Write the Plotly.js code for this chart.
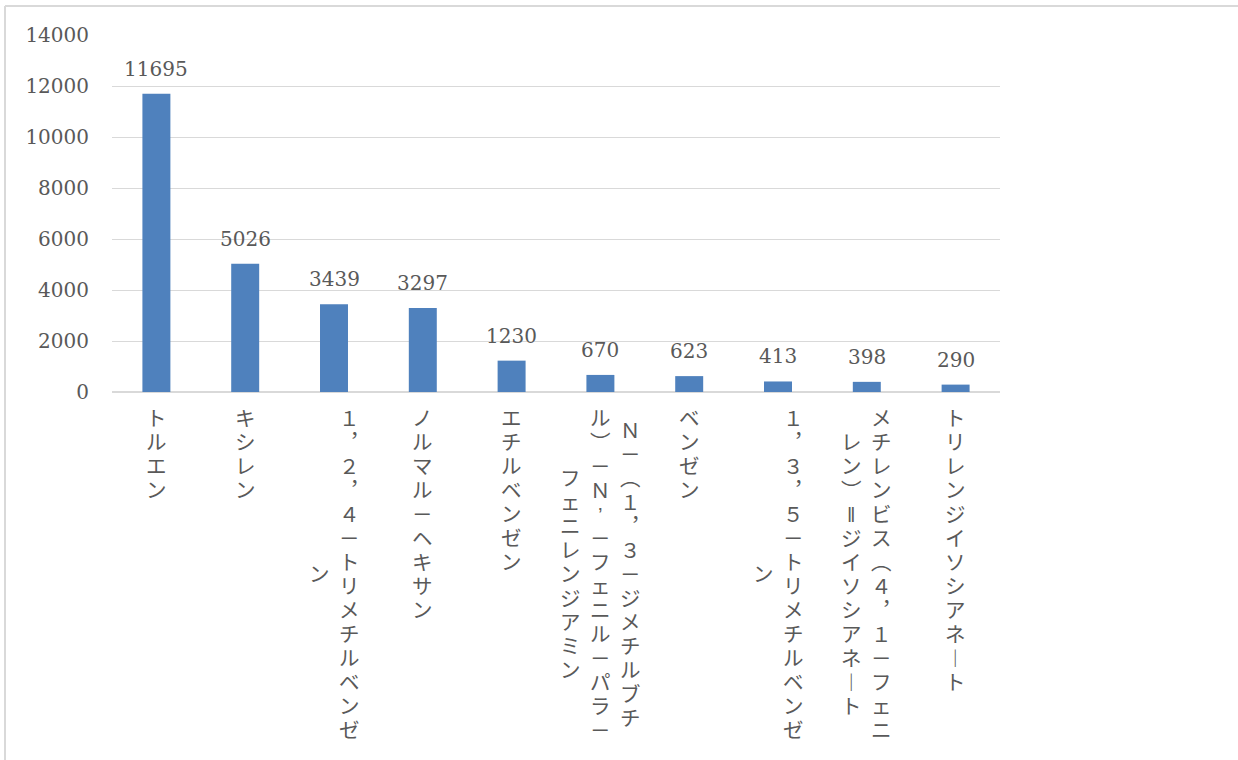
<!DOCTYPE html>
<html>
<head>
<meta charset="utf-8">
<script src="https://cdn.plot.ly/plotly-3.0.1.min.js"></script>
<style>
  html, body { margin: 0; padding: 0; background: #ffffff; }
  #chart { width: 1238px; height: 760px; }
</style>
</head>
<body>
<div id="chart"></div>
<script>
// ---- data ----
const categories = [
  "トルエン",
  "キシレン",
  "１，２，４－トリメチルベンゼン",
  "ノルマル－ヘキサン",
  "エチルベンゼン",
  "Ｎ－（１，３－ジメチルブチル）－Ｎ’－フェニル－パラ－フェニレンジアミン",
  "ベンゼン",
  "１，３，５－トリメチルベンゼン",
  "メチレンビス（４，１－フェニレン）＝ジイソシアネート",
  "トリレンジイソシアネート"
];
const values = [11695, 5026, 3439, 3297, 1230, 670, 623, 413, 398, 290];
// category labels as wrapped in the chart (vertical columns, right to left)
const labelColumns = [
  ["トルエン"],
  ["キシレン"],
  ["１，２，４－トリメチルベンゼ", "ン"],
  ["ノルマル－ヘキサン"],
  ["エチルベンゼン"],
  ["Ｎ－（１，３－ジメチルブチ", "ル）－Ｎ’－フェニル－パラ－", "フェニレンジアミン"],
  ["ベンゼン"],
  ["１，３，５－トリメチルベンゼ", "ン"],
  ["メチレンビス（４，１－フェニ", "レン）＝ジイソシアネート"],
  ["トリレンジイソシアネート"]
];
const yTickVals = [0, 2000, 4000, 6000, 8000, 10000, 12000, 14000];

// ---- styling ----
const TEXT_COLOR = "#595959";
const GRID_COLOR = "#D9D9D9";
const BAR_COLOR = "#4F81BD";
const NUM_FONT = "DejaVu Serif";
const JP_FONT = "Liberation Sans, Noto Sans CJK JP";
const BASE = 18.46;        // line pitch = 1.3 * BASE
const GLYPH = 20.5;        // glyph size
const PITCH = BASE * 1.3;
const COL_GAP = 30;
const TOP_OFF = 13;

const verticalForms = { "（": "︵", "）": "︶", "ー": "︱", "＝": "‖", "，": "︐" };

function stackColumn(str) {
  return Array.from(str)
    .map(c => '<span style="font-size:' + GLYPH + 'px">' + (verticalForms[c] || c) + '</span>')
    .join("<br>");
}

const annotations = [];
// value labels
values.forEach((v, i) => {
  annotations.push({
    x: categories[i], y: v, xref: "x", yref: "y",
    text: String(v), showarrow: false,
    xanchor: "center", yanchor: "bottom", yshift: 11,
    font: { family: NUM_FONT, size: 20, color: TEXT_COLOR }
  });
});
// category labels
labelColumns.forEach((cols, i) => {
  const n = cols.length;
  const maxLen = Math.max(...cols.map(c => Array.from(c).length));
  cols.forEach((col, j) => {
    const len = Array.from(col).length;
    annotations.push({
      x: categories[i], y: 0, xref: "x", yref: "y",
      text: stackColumn(col), showarrow: false, align: "center",
      xanchor: "center", yanchor: "top",
      xshift: ((n - 1) / 2 - j) * COL_GAP,
      yshift: -(TOP_OFF + (maxLen - len) / 2 * PITCH),
      font: { family: JP_FONT, size: BASE, color: TEXT_COLOR }
    });
  });
});

const trace = {
  type: "bar",
  x: categories,
  y: values,
  marker: { color: BAR_COLOR },
  hoverinfo: "x+y"
};

const layout = {
  width: 1238, height: 760,
  margin: { l: 112, r: 238, t: 35, b: 368, pad: 0 },
  paper_bgcolor: "#ffffff", plot_bgcolor: "#ffffff",
  showlegend: false,
  bargap: 0.685,
  xaxis: {
    type: "category",
    showticklabels: false, ticks: "",
    showgrid: false, zeroline: false, showline: false,
    fixedrange: true
  },
  yaxis: {
    range: [0, 14000],
    tickvals: yTickVals,
    ticktext: yTickVals.map(String),
    showgrid: true, gridcolor: GRID_COLOR, gridwidth: 1,
    zeroline: true, zerolinecolor: GRID_COLOR, zerolinewidth: 1.5,
    showline: false, ticks: "",
    ticklabelstandoff: 22,
    tickfont: { family: NUM_FONT, size: 20, color: TEXT_COLOR },
    fixedrange: true
  },
  annotations: annotations,
  shapes: [
    { type: "line", xref: "paper", yref: "paper", layer: "below",
      x0: -107 / 888, x1: -107 / 888, y0: -2, y1: 386 / 357,
      line: { color: GRID_COLOR, width: 2 } },
    { type: "line", xref: "paper", yref: "paper", layer: "below",
      x0: -107 / 888, x1: 2, y0: 386 / 357, y1: 386 / 357,
      line: { color: GRID_COLOR, width: 2 } }
  ]
};

Plotly.newPlot("chart", [trace], layout, { displayModeBar: false, staticPlot: true });
</script>
</body>
</html>
